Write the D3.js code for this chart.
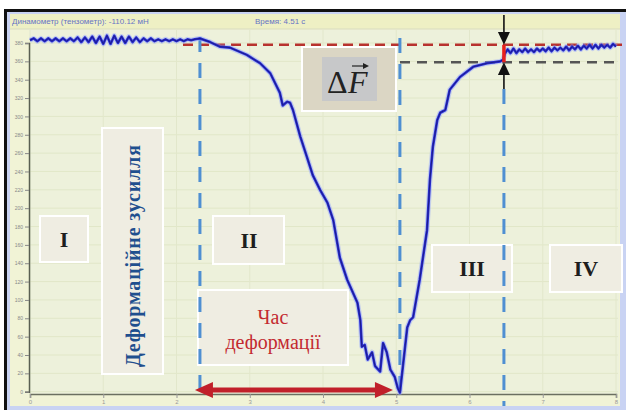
<!DOCTYPE html>
<html>
<head>
<meta charset="utf-8">
<script src="https://cdn.jsdelivr.net/npm/d3@7"></script>
<style>
  body { margin: 0; background: #fff; }
  svg { display: block; }
</style>
</head>
<body>
<svg width="626" height="410"></svg>
<script>

// data: [time s, force mN]
var phaseRest = [
  [0.00,383],[0.05,385],[0.10,382],[0.15,385],[0.20,382],[0.25,385],[0.30,382],[0.35,385],
  [0.40,382],[0.45,385],[0.50,382],[0.55,385],[0.60,382],[0.65,386],[0.70,381],[0.75,386],
  [0.80,381],[0.85,387],[0.90,380],[0.95,387],[1.00,379],[1.05,388],[1.10,379],[1.15,388],
  [1.20,380],[1.25,387],[1.30,380],[1.35,387],[1.40,381],[1.45,386],[1.50,381],[1.55,385],
  [1.60,382],[1.65,385],[1.70,382],[1.75,384],[1.80,382],[1.85,384],[1.90,382],[1.95,384],
  [2.00,382],[2.05,384],[2.10,382],[2.15,384],[2.20,383],[2.25,384]
]
var phaseDeform = [
  [2.32,385],[2.46,381],[2.59,376],[2.73,375],[2.96,367],[3.14,358],[3.28,347],[3.41,326],
  [3.45,312],[3.51,316],[3.55,315],[3.59,307],[3.69,278],[3.78,256],[3.86,236],[3.96,220],
  [4.06,206],[4.14,187],[4.23,146],[4.33,122],[4.47,97],[4.51,78],[4.53,49],[4.57,51],
  [4.61,35],[4.67,43],[4.71,28],[4.78,22],[4.82,53],[4.87,43],[4.92,24],[4.98,16],
  [5.02,4],[5.05,-1]
]
var phaseRecover = [
  [5.09,27],[5.15,70],[5.19,78],[5.23,81],[5.32,122],[5.42,176],[5.46,231],[5.50,267],
  [5.56,296],[5.60,304],[5.67,307],[5.73,329],[5.87,343],[6.05,354],[6.24,358],[6.42,360],
  [6.46,362]
]
var phaseAfter = [
  [6.48,368],[6.52,373],[6.56,369],[6.60,374],[6.64,369],[6.68,373],[6.72,370],[6.76,374],
  [6.80,370],[6.84,373],[6.88,370],[6.92,374],[6.96,371],[7.00,374],[7.04,371],[7.08,375],
  [7.12,371],[7.16,375],[7.20,372],[7.24,375],[7.28,372],[7.32,376],[7.36,372],[7.40,376],
  [7.44,373],[7.48,377],[7.52,373],[7.56,377],[7.60,374],[7.64,378],[7.68,374],[7.72,378],
  [7.76,374],[7.80,378],[7.84,375],[7.88,378],[7.92,375],[7.96,379],[8.00,376]
]

var timeTicks = [0, 1, 2, 3, 4, 5, 6, 7, 8]
var forceTicks = [0, 20, 40, 60, 80, 100, 120, 140, 160, 180, 200, 220, 240, 260, 280, 300, 320, 340, 360, 380]

var levelStart = 378      // red dashed
var levelEnd = 359        // grey dashed
var markTimes = [2.32, 5.05, 6.47]

var svg = d3.select("svg")

var x = d3.scaleLinear().domain([0, 8]).range([30, 616])
var y = d3.scaleLinear().domain([0, 380]).range([391.7, 43])

// window frame
svg.append("rect").attr("x", 4).attr("y", 9).attr("width", 640).attr("height", 420).attr("fill", "#111")
svg.append("rect").attr("x", 7).attr("y", 12).attr("width", 640).attr("height", 420).attr("fill", "#c9d3f3")
svg.append("rect").attr("x", 10).attr("y", 14).attr("width", 610).attr("height", 392).attr("fill", "#f1f3d6")
svg.append("rect").attr("x", 10).attr("y", 14).attr("width", 610).attr("height", 15).attr("fill", "#eef0c4")
svg.append("line").attr("x1", 10).attr("x2", 620).attr("y1", 29).attr("y2", 29).attr("stroke", "#d9dcc0")

svg.append("text").attr("x", 12).attr("y", 24).attr("font-family", "Liberation Sans")
   .attr("font-size", "8px").attr("fill", "#4454c4").attr("opacity", .8)
   .text("Динамометр (тензометр): -110.12 мН")
svg.append("text").attr("x", 255).attr("y", 24).attr("font-family", "Liberation Sans")
   .attr("font-size", "8px").attr("fill", "#4454c4").attr("opacity", .8)
   .text("Время: 4.51 с")

// plot background + grid
svg.append("rect").attr("x", 29).attr("y", 30).attr("width", 590).attr("height", 364).attr("fill", "#edf1db")

svg.append("g").selectAll("line")
   .data(forceTicks).enter().append("line")
   .attr("x1", 29).attr("x2", 618)
   .attr("y1", function(d) { return y(d); }).attr("y2", function(d) { return y(d); })
   .attr("stroke", "#e1e7c8").attr("stroke-width", 1)

svg.append("g").selectAll("line")
   .data(timeTicks).enter().append("line")
   .attr("x1", function(d) { return x(d); }).attr("x2", function(d) { return x(d); })
   .attr("y1", 30).attr("y2", 394)
   .attr("stroke", "#e2e7cb").attr("stroke-width", 1)

// axes
var gy = svg.append("g").attr("transform", "translate(29,0)")
   .call(d3.axisLeft(y).tickValues(forceTicks).tickSize(4).tickPadding(2))
gy.select(".domain").attr("stroke", "#5a5f52").attr("stroke-width", 1.5)
gy.selectAll(".tick line").attr("stroke", "#888")
gy.selectAll(".tick text").attr("font-size", "5px").attr("fill", "#888").attr("font-family", "Liberation Sans")

var gx = svg.append("g").attr("transform", "translate(0,394)")
   .call(d3.axisBottom(x).tickValues(timeTicks).tickSize(4).tickPadding(2))
gx.select(".domain").attr("stroke", "#6b6f60").attr("stroke-width", 1.5)
gx.selectAll(".tick line").attr("stroke", "#999")
gx.selectAll(".tick text").attr("font-size", "6px").attr("fill", "#999").attr("font-family", "Liberation Sans")

// label boxes
function box(x0, y0, w, h, fill)
{
  return svg.append("rect").attr("x", x0).attr("y", y0).attr("width", w).attr("height", h)
     .attr("fill", fill || "#efede2").attr("stroke", "#fff").attr("stroke-width", 2)
}

box(40, 216, 48, 46)
box(102, 128, 61, 246)
box(213, 216, 71, 48)
box(198, 290, 150, 75)
box(432, 245, 80, 47)
box(550, 245, 72, 47)

// dashed level lines
svg.append("line").attr("x1", 183).attr("x2", 622)
   .attr("y1", y(levelStart)).attr("y2", y(levelStart))
   .attr("stroke", "#b8322e").attr("stroke-width", 2.5).attr("stroke-dasharray", "10,6")
svg.append("line").attr("x1", 400).attr("x2", 616)
   .attr("y1", y(levelEnd)).attr("y2", y(levelEnd))
   .attr("stroke", "#555").attr("stroke-width", 2.5).attr("stroke-dasharray", "10,7")

// ΔF box
box(302, 47, 94, 64, "#dbd6c4")
svg.append("rect").attr("x", 322).attr("y", 57).attr("width", 55).attr("height", 44).attr("fill", "#c7c8c9")

// vertical blue marks
var markTop = [37, 38, 89]
var markBottom = [392, 393, 406]
svg.append("g").selectAll("line")
   .data(markTimes).enter().append("line")
   .attr("x1", function(d) { return x(d); }).attr("x2", function(d) { return x(d); })
   .attr("y1", function(d, i) { return markTop[i]; })
   .attr("y2", function(d, i) { return markBottom[i]; })
   .attr("stroke", "#4f8fd2").attr("stroke-width", 3).attr("stroke-dasharray", "15,11")

// curve
var all = phaseRest.concat(phaseDeform, phaseRecover, phaseAfter)
var line = d3.line().x(function(d) { return x(d[0]); }).y(function(d) { return y(d[1]); })

svg.append("path").datum(all).attr("d", line)
   .attr("fill", "none").attr("stroke", "#8ea2ff").attr("stroke-width", 5).attr("opacity", .45)
   .attr("stroke-linejoin", "round")
svg.append("path").datum(all).attr("d", line)
   .attr("fill", "none").attr("stroke", "#2b2fd6").attr("stroke-width", 2.6)
   .attr("stroke-linejoin", "round")
svg.append("path").datum(all).attr("d", line)
   .attr("fill", "none").attr("stroke", "#1c1c8a").attr("stroke-width", 1)
   .attr("stroke-linejoin", "round")

// ΔF red bar and arrows
var xm = x(markTimes[2])
svg.append("line").attr("x1", xm).attr("x2", xm).attr("y1", y(levelStart)).attr("y2", y(levelEnd))
   .attr("stroke", "#e8201c").attr("stroke-width", 3.5)

svg.append("line").attr("x1", xm).attr("x2", xm).attr("y1", 15).attr("y2", 34)
   .attr("stroke", "#111").attr("stroke-width", 1.6)
svg.append("path").attr("d", "M" + (xm - 6) + ",32 L" + (xm + 6) + ",32 L" + xm + "," + y(levelStart) + "Z").attr("fill", "#111")
svg.append("line").attr("x1", xm).attr("x2", xm).attr("y1", 73).attr("y2", 89)
   .attr("stroke", "#111").attr("stroke-width", 1.6)
svg.append("path").attr("d", "M" + (xm - 6) + ",75 L" + (xm + 6) + ",75 L" + xm + "," + y(levelEnd) + "Z").attr("fill", "#111")

// deformation time arrow
var ax0 = x(markTimes[0]) - 5, ax1 = x(markTimes[1]) - 7, ay = 390
svg.append("line").attr("x1", ax0 + 14).attr("x2", ax1 - 14).attr("y1", ay).attr("y2", ay)
   .attr("stroke", "#c1202a").attr("stroke-width", 5)
svg.append("path").attr("d", "M" + ax0 + "," + ay + " L" + (ax0 + 18) + "," + (ay - 8) + " L" + (ax0 + 18) + "," + (ay + 8) + "Z").attr("fill", "#c1202a")
svg.append("path").attr("d", "M" + ax1 + "," + ay + " L" + (ax1 - 18) + "," + (ay - 8) + " L" + (ax1 - 18) + "," + (ay + 8) + "Z").attr("fill", "#c1202a")

// texts
var serif = "Liberation Serif, DejaVu Serif, serif"

function roman(t, cx, cy)
{
  svg.append("text").attr("x", cx).attr("y", cy).attr("text-anchor", "middle")
     .attr("font-family", serif).attr("font-weight", "bold").attr("font-size", "22px")
     .attr("fill", "#1e1e1e").text(t)
}
roman("I", 64, 247)
roman("II", 249, 248)
roman("III", 472, 276)
roman("IV", 586, 276)

svg.append("text").attr("transform", "translate(140,256) rotate(-90)")
   .attr("text-anchor", "middle").attr("font-family", serif).attr("font-weight", "bold")
   .attr("font-size", "20px").attr("fill", "#1f4f8e")
   .attr("textLength", 222).attr("lengthAdjust", "spacing")
   .text("Деформаційне  зусилля")

svg.append("text").attr("x", 273).attr("y", 324).attr("text-anchor", "middle")
   .attr("font-family", serif).attr("font-size", "20px").attr("fill", "#c32a30").text("Час")
svg.append("text").attr("x", 273).attr("y", 349).attr("text-anchor", "middle")
   .attr("font-family", serif).attr("font-size", "20px").attr("fill", "#c32a30").text("деформації")

svg.append("text").attr("x", 327).attr("y", 93).attr("font-family", serif)
   .attr("font-size", "32px").attr("fill", "#222").text("Δ")
svg.append("text").attr("x", 348).attr("y", 93).attr("font-family", serif).attr("font-style", "italic")
   .attr("font-size", "32px").attr("fill", "#222").text("F")
svg.append("line").attr("x1", 352).attr("x2", 366).attr("y1", 66).attr("y2", 66)
   .attr("stroke", "#222").attr("stroke-width", 1.2)
svg.append("path").attr("d", "M369,66 L363,63 L363,69Z").attr("fill", "#222")

</script>
</body>
</html>
